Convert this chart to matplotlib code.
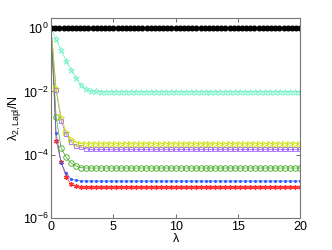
import numpy as np
import matplotlib
matplotlib.use('Agg')
import matplotlib.pyplot as plt

plt.rcParams['font.family'] = ['Liberation Sans', 'DejaVu Sans']
plt.rcParams['mathtext.fontset'] = 'custom'
plt.rcParams['mathtext.rm'] = 'Liberation Sans'

# lambda values (black series sampled finer than the others)
lam_black = np.linspace(0, 20, 61)
lam = np.linspace(0, 20, 51)

black = [1.0] * 61  # constant at 1

cyan = [1.0, 0.44, 0.20, 0.095, 0.049, 0.027, 0.016, 0.012, 0.0105, 0.0100,
        0.0098, 0.0098, 0.0098, 0.0098, 0.0098, 0.0098, 0.0098, 0.0098, 0.0098, 0.0098,
        0.0098, 0.0098, 0.0098, 0.0098, 0.0098, 0.0098, 0.0098, 0.0098, 0.0098, 0.0098,
        0.0098, 0.0098, 0.0098, 0.0098, 0.0098, 0.0098, 0.0098, 0.0098, 0.0098, 0.0098,
        0.0098, 0.0098, 0.0098, 0.0098, 0.0098, 0.0098, 0.0098, 0.0098, 0.0098, 0.0098,
        0.0098]

yellow = [1.0, 0.0126, 0.0016, 0.00054, 0.00031, 0.00024, 0.000224, 0.00022, 0.00022, 0.00022,
          0.00022, 0.00022, 0.00022, 0.00022, 0.00022, 0.00022, 0.00022, 0.00022, 0.00022, 0.00022,
          0.00022, 0.00022, 0.00022, 0.00022, 0.00022, 0.00022, 0.00022, 0.00022, 0.00022, 0.00022,
          0.00022, 0.00022, 0.00022, 0.00022, 0.00022, 0.00022, 0.00022, 0.00022, 0.00022, 0.00022,
          0.00022, 0.00022, 0.00022, 0.00022, 0.00022, 0.00022, 0.00022, 0.00022, 0.00022, 0.00022,
          0.00022]

purple = [1.0, 0.0112, 0.0012, 0.00045, 0.00026, 0.00019, 0.00017, 0.000155, 0.000148, 0.000148,
          0.000148, 0.000148, 0.000148, 0.000148, 0.000148, 0.000148, 0.000148, 0.000148, 0.000148, 0.000148,
          0.000148, 0.000148, 0.000148, 0.000148, 0.000148, 0.000148, 0.000148, 0.000148, 0.000148, 0.000148,
          0.000148, 0.000148, 0.000148, 0.000148, 0.000148, 0.000148, 0.000148, 0.000148, 0.000148, 0.000148,
          0.000148, 0.000148, 0.000148, 0.000148, 0.000148, 0.000148, 0.000148, 0.000148, 0.000148, 0.000148,
          0.000148]

green = [1.0, 0.0016, 0.000166, 8.3e-5, 5.4e-5, 4.4e-5, 3.9e-5, 3.8e-5, 3.8e-5, 3.8e-5,
         3.8e-5, 3.8e-5, 3.8e-5, 3.8e-5, 3.8e-5, 3.8e-5, 3.8e-5, 3.8e-5, 3.8e-5, 3.8e-5,
         3.8e-5, 3.8e-5, 3.8e-5, 3.8e-5, 3.8e-5, 3.8e-5, 3.8e-5, 3.8e-5, 3.8e-5, 3.8e-5,
         3.8e-5, 3.8e-5, 3.8e-5, 3.8e-5, 3.8e-5, 3.8e-5, 3.8e-5, 3.8e-5, 3.8e-5, 3.8e-5,
         3.8e-5, 3.8e-5, 3.8e-5, 3.8e-5, 3.8e-5, 3.8e-5, 3.8e-5, 3.8e-5, 3.8e-5, 3.8e-5,
         3.8e-5]

blue = [1.0, 5.0e-4, 5.5e-5, 2.6e-5, 1.7e-5, 1.55e-5, 1.5e-5, 1.48e-5, 1.48e-5, 1.48e-5,
        1.48e-5, 1.48e-5, 1.48e-5, 1.48e-5, 1.48e-5, 1.48e-5, 1.48e-5, 1.48e-5, 1.48e-5, 1.48e-5,
        1.48e-5, 1.48e-5, 1.48e-5, 1.48e-5, 1.48e-5, 1.48e-5, 1.48e-5, 1.48e-5, 1.48e-5, 1.48e-5,
        1.48e-5, 1.48e-5, 1.48e-5, 1.48e-5, 1.48e-5, 1.48e-5, 1.48e-5, 1.48e-5, 1.48e-5, 1.48e-5,
        1.48e-5, 1.48e-5, 1.48e-5, 1.48e-5, 1.48e-5, 1.48e-5, 1.48e-5, 1.48e-5, 1.48e-5, 1.48e-5,
        1.48e-5]

red = [1.0, 2.8e-4, 6.0e-5, 2.0e-5, 1.17e-5, 1.0e-5, 9.5e-6, 9.3e-6, 9.3e-6, 9.3e-6,
       9.3e-6, 9.3e-6, 9.3e-6, 9.3e-6, 9.3e-6, 9.3e-6, 9.3e-6, 9.3e-6, 9.3e-6, 9.3e-6,
       9.3e-6, 9.3e-6, 9.3e-6, 9.3e-6, 9.3e-6, 9.3e-6, 9.3e-6, 9.3e-6, 9.3e-6, 9.3e-6,
       9.3e-6, 9.3e-6, 9.3e-6, 9.3e-6, 9.3e-6, 9.3e-6, 9.3e-6, 9.3e-6, 9.3e-6, 9.3e-6,
       9.3e-6, 9.3e-6, 9.3e-6, 9.3e-6, 9.3e-6, 9.3e-6, 9.3e-6, 9.3e-6, 9.3e-6, 9.3e-6,
       9.3e-6]

fig = plt.figure(figsize=(3.32, 2.5), dpi=100)
ax = fig.add_axes([0.154, 0.128, 0.750, 0.800])

lw = 0.5
ax.plot(lam, red, color='#ff3030', marker=(6, 2, 0), ms=3.5, mew=0.9, lw=lw)
ax.plot(lam, blue, color='#3060ff', marker='.', ms=2.5, lw=lw)
ax.plot(lam, green, color='#40aa20', marker='o', ms=4, mfc='none', mew=0.6, lw=lw)
ax.plot(lam, purple, color='#a060ff', marker='s', ms=3.5, mfc='none', mew=0.6, lw=lw)
ax.plot(lam, yellow, color='#c8e000', marker='>', ms=4, mfc='none', mew=0.6, lw=lw)
ax.plot(lam, cyan, color='#60f0c0', marker='*', ms=5, mfc='none', mew=0.5, lw=lw)
ax.plot(lam_black, black, color='black', marker='o', ms=3.3, lw=lw)

ax.set_yscale('log')
ax.set_xlim(0, 20)
ax.set_ylim(1e-6, 2.1)
ax.set_xticks([0, 5, 10, 15, 20])
ax.set_yticks([1e-6, 1e-4, 1e-2, 1e0])
ax.yaxis.set_minor_locator(matplotlib.ticker.NullLocator())
ax.tick_params(direction='in', length=3, width=0.6, labelsize=9, color='#555555',
               top=True, right=True, pad=2)
for s in ax.spines.values():
    s.set_color('#777777')
    s.set_linewidth(0.8)

ax.set_xlabel('λ', fontsize=9, labelpad=0)
ax.set_ylabel(r'λ$_{\mathregular{2,Lapl}}$/N', fontsize=9, labelpad=0)

fig.savefig('out.png', dpi=100)
